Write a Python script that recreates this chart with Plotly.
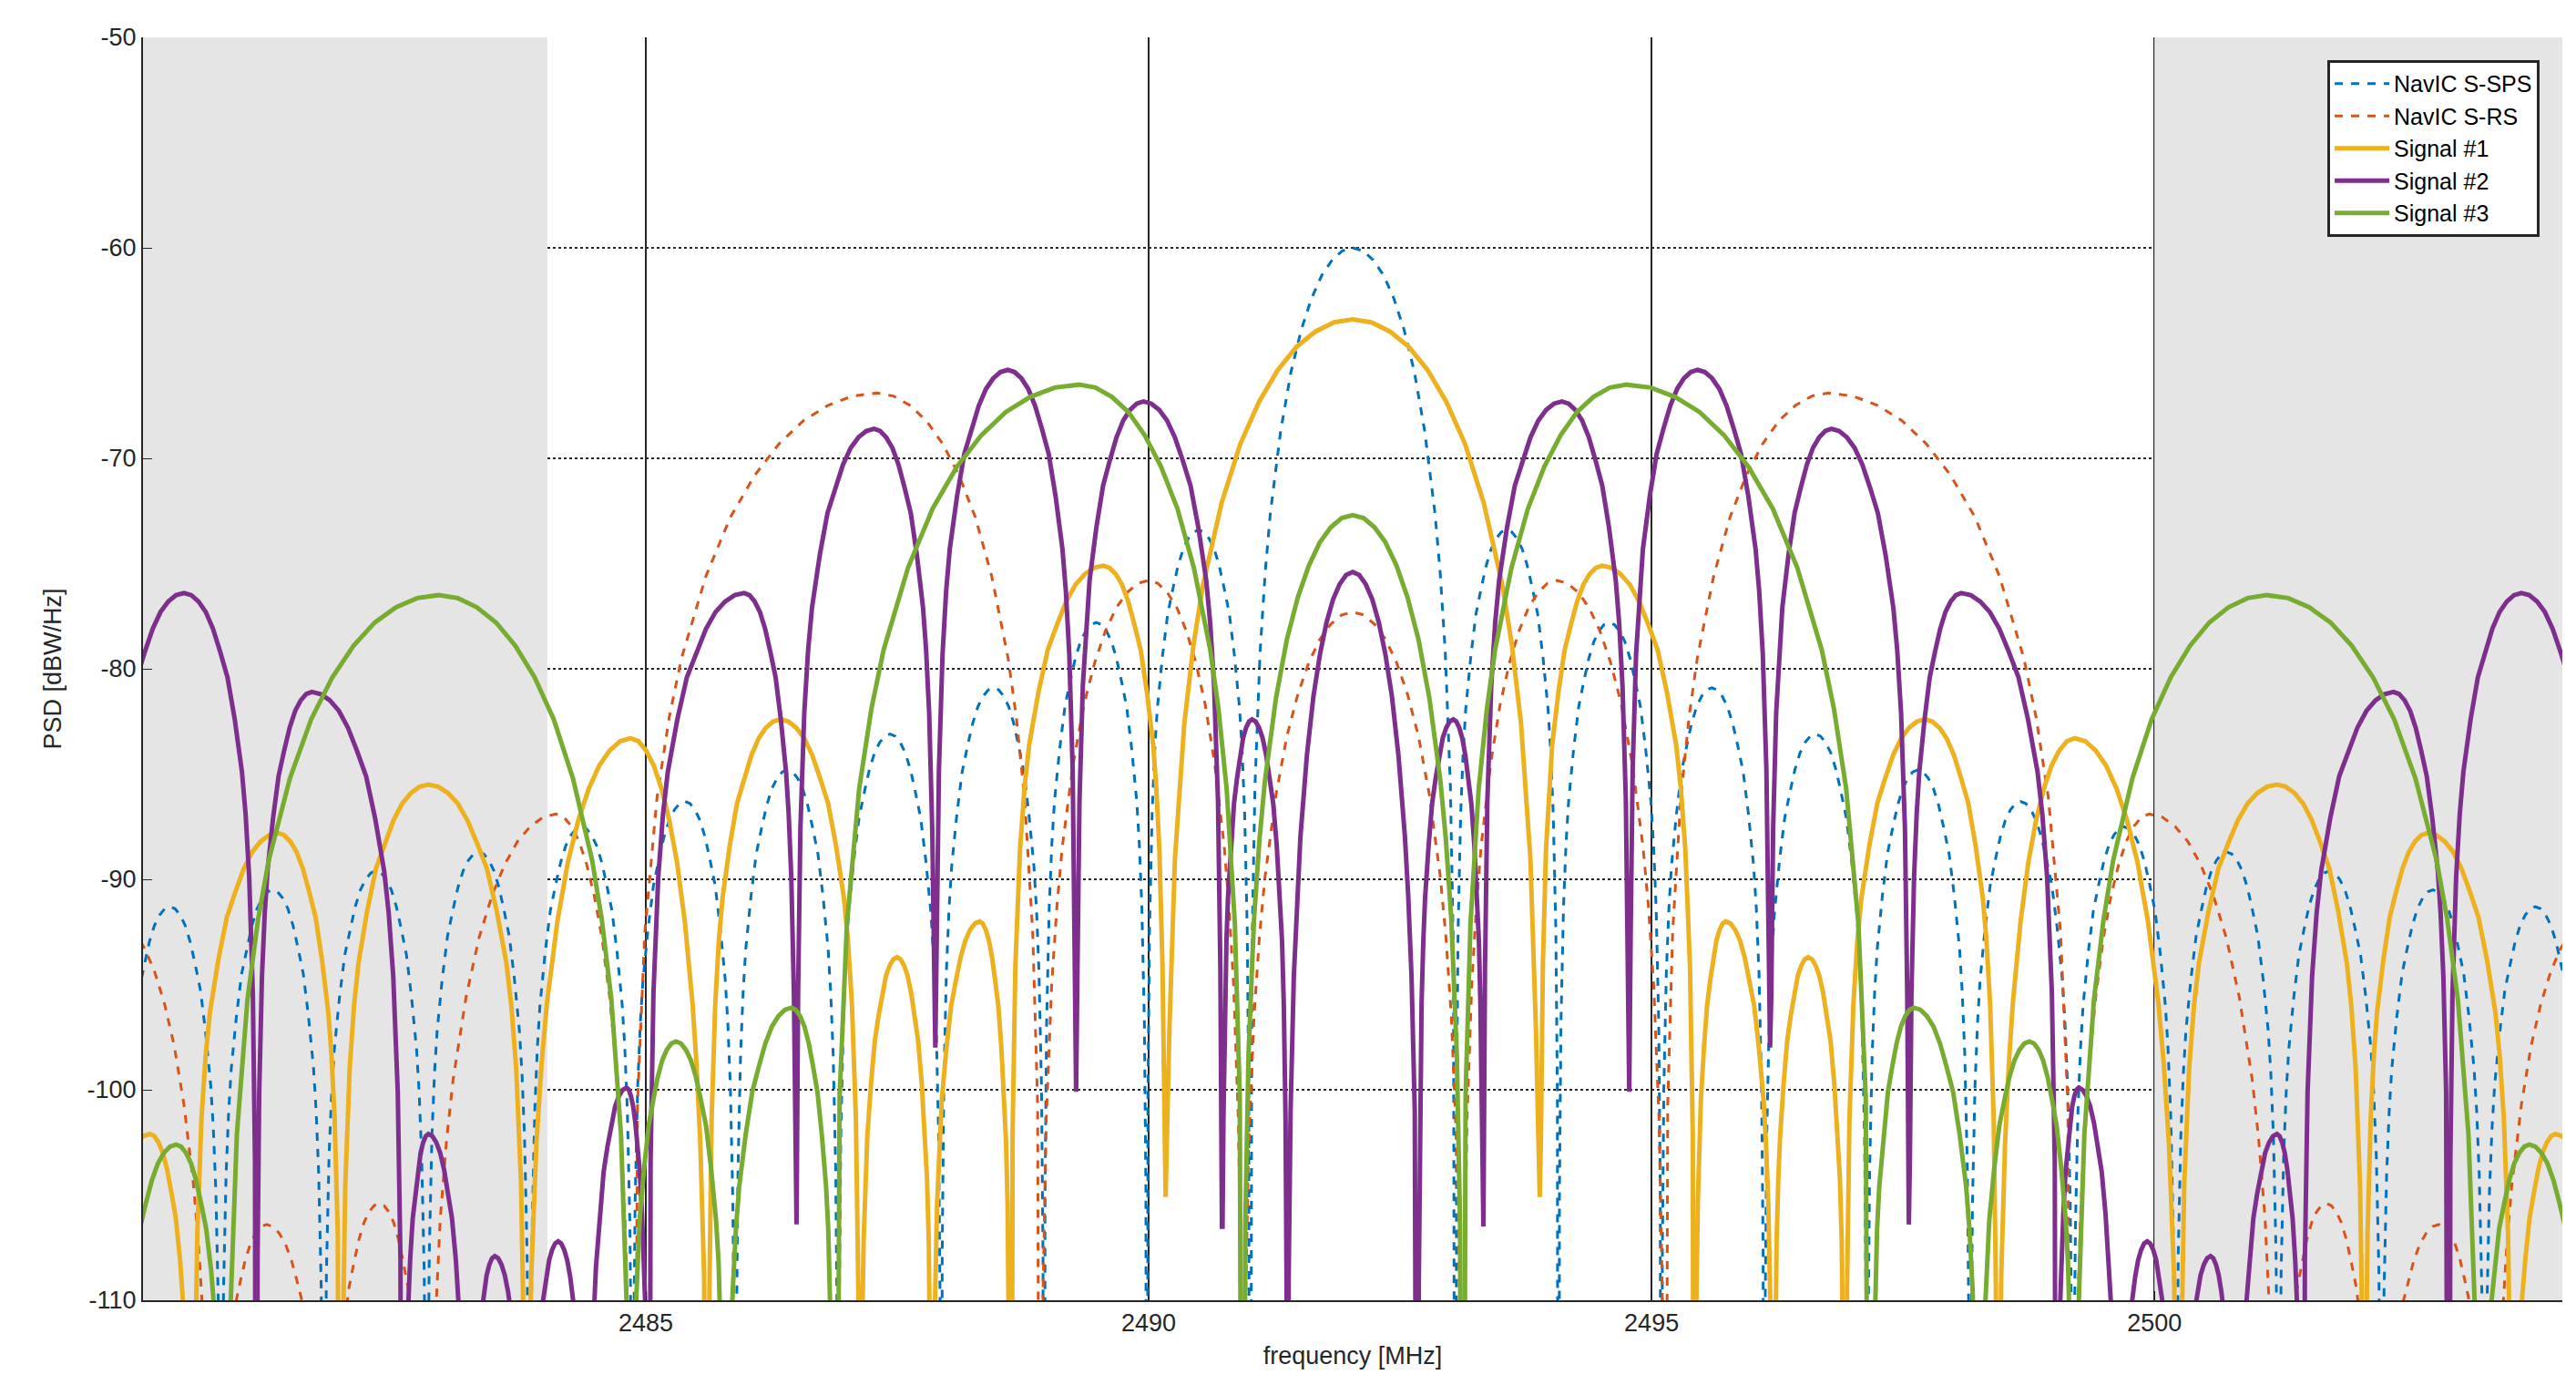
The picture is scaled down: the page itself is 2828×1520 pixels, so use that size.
import plotly.graph_objects as go

CENTER = 2492.028
X_RANGE = [2480.0, 2504.056]
Y_RANGE = [-110, -50]
X_TICKS = [2485, 2490, 2495, 2500]
Y_TICKS = [-110, -100, -90, -80, -70, -60, -50]
SHADE_LEFT = [2480.0, 2484.02]
SHADE_RIGHT = [2500.0, 2504.056]

# Per series (symmetric about CENTER): null offsets [MHz], null depths [dB],
# lobe peak offsets and lobe peak levels (lobe i lies between null i-1 and null i).
DEEP = -150
sps_nulls = [1.023, 2.046, 3.069, 4.092, 5.115, 6.138, 7.161, 8.184, 9.207, 10.23, 11.253, 12.276, 13.3]
sps_depth = [DEEP] * 13
sps_peak_off = [0, 1.53, 2.55, 3.57, 4.6, 5.62, 6.64, 7.67, 8.69, 9.71, 10.74, 11.76, 12.79]
sps_peak_lvl = [-60.0, -73.4, -77.8, -80.9, -83.1, -84.8, -86.3, -87.5, -88.7, -89.6, -90.5, -91.3, -92.0]

rs_nulls = [1.09, 3.1, 7.16, 9.2, 10.18, 11.33, 13.4]
rs_depth = [DEEP] * 7
rs_peak_off = [0, 2.03, 4.73, 7.92, 9.68, 10.8, 12.3]
rs_peak_lvl = [-77.3, -75.8, -66.9, -86.9, -105.4, -106.4, -92.0]

s1_nulls = [1.86, 3.40, 4.18, 4.90, 6.41, 8.22, 10.06, 11.53, 12.6]
s1_depth = [-105.1, DEEP, DEEP, DEEP, DEEP, DEEP, DEEP, DEEP, DEEP]
s1_peak_off = [0, 2.48, 3.71, 4.53, 5.69, 7.18, 9.19, 10.69, 11.96]
s1_peak_lvl = [-63.4, -75.1, -92.0, -93.7, -82.4, -83.3, -85.5, -87.8, -102.1]

s2_nulls = [0.65, 1.30, 2.75, 4.15, 5.53, 7.0, 7.6, 8.2, 8.8, 9.45, 10.9, 12.4]
s2_depth = [DEEP, -106.5, -100.1, -98.0, -106.4, DEEP, DEEP, DEEP, DEEP, DEEP, DEEP, DEEP]
s2_peak_off = [0, 1.0, 2.08, 3.43, 4.76, 6.05, 7.22, 7.9, 8.53, 9.19, 10.35, 11.62]
s2_peak_lvl = [-75.4, -82.4, -67.3, -65.8, -68.6, -76.4, -99.9, -107.2, -107.9, -102.1, -81.1, -76.4]

s3_nulls = [1.09, 5.15, 6.23, 7.18, 11.2, 12.3]
s3_depth = [DEEP] * 6
s3_peak_off = [0, 2.72, 5.58, 6.73, 9.09, 11.7]
s3_peak_lvl = [-72.7, -66.5, -96.1, -97.7, -76.5, -102.6]

# lobe shape template: fraction of distance from null -> dB below lobe peak
T_FRAC = [0.0, 0.02, 0.05, 0.1, 0.15, 0.2, 0.3, 0.4, 0.5, 0.6, 0.7, 0.8, 0.9, 1.0]
MAIN_DROP = [None, -33.8, -25.6, -19.2, -15.4, -12.6, -8.7, -5.9, -3.9, -2.4, -1.3, -0.58, -0.14, 0.0]
SIDE_DROP = [None, -27.0, -19.0, -13.5, -10.5, -8.5, -6.0, -4.0, -2.8, -1.7, -0.9, -0.4, -0.1, 0.0]


def half(p, P, n, D, main, towards_null):
    drops = MAIN_DROP if main else SIDE_DROP
    pts = []
    for t, d in zip(T_FRAC, drops):
        x = n + (p - n) * t
        y = D if d is None else max(P + d, D)
        pts.append((x, y))
    return pts if towards_null is False else pts[::-1]


def build(nulls, depth, poff, plvl):
    pts = []
    for i in range(len(nulls)):
        left = 0.0 if i == 0 else nulls[i - 1]
        right = nulls[i]
        p, P = poff[i], plvl[i]
        main = (right - p) > 1.0 or i == 0
        if i > 0:
            pts += half(p, P, left, depth[i - 1], main, False)
        pts += half(p, P, right, depth[i], main, True)[1:] if i > 0 else half(p, P, right, depth[i], main, True)
    pts.sort()
    xs_r = [CENTER + x for x, _ in pts]
    ys_r = [y for _, y in pts]
    xs_l = [CENTER - x for x, _ in pts][::-1]
    ys_l = ys_r[::-1]
    return xs_l + xs_r[1:], ys_l + ys_r[1:]


series = [
    ("NavIC S-SPS", "#0072BD", "dash", 3, sps_nulls, sps_depth, sps_peak_off, sps_peak_lvl),
    ("NavIC S-RS", "#D95319", "dash", 3, rs_nulls, rs_depth, rs_peak_off, rs_peak_lvl),
    ("Signal #1", "#EDB120", "solid", 5, s1_nulls, s1_depth, s1_peak_off, s1_peak_lvl),
    ("Signal #2", "#7E2F8E", "solid", 5, s2_nulls, s2_depth, s2_peak_off, s2_peak_lvl),
    ("Signal #3", "#77AC30", "solid", 5, s3_nulls, s3_depth, s3_peak_off, s3_peak_lvl),
]

fig = go.Figure()
for name, col, dash, w, nl, dp, po, pl in series:
    xs, ys = build(nl, dp, po, pl)
    fig.add_trace(go.Scatter(x=xs, y=ys, mode="lines", name=name,
                             line=dict(color=col, dash=dash, width=w), cliponaxis=True))

for x0, x1 in (SHADE_LEFT, SHADE_RIGHT):
    fig.add_shape(type="rect", xref="x", yref="y", x0=x0, x1=x1, y0=Y_RANGE[0], y1=Y_RANGE[1],
                  fillcolor="#E5E5E5", line=dict(width=0), layer="between")

font = "Liberation Sans, Arial, sans-serif"
fig.update_layout(
    width=2828, height=1520,
    margin=dict(l=149, r=23, t=33, b=101),
    paper_bgcolor="white", plot_bgcolor="white",
    font=dict(family=font, size=27, color="#262626"),
    showlegend=True,
    legend=dict(x=0.9906, y=0.982, xanchor="right", yanchor="top",
                bgcolor="white", bordercolor="#262626", borderwidth=3,
                font=dict(size=25, color="black"), tracegroupgap=0, itemwidth=60),
)
fig.update_xaxes(range=X_RANGE, tickvals=X_TICKS, ticktext=[str(v) for v in X_TICKS],
                 showgrid=True, gridcolor="#262626", gridwidth=1.5,
                 showline=True, linecolor="#262626", linewidth=2, ticks="inside", ticklen=10,
                 tickcolor="#262626", zeroline=False,
                 title=dict(text="frequency [MHz]", font=dict(size=27), standoff=12))
fig.update_yaxes(range=Y_RANGE, tickvals=Y_TICKS, ticktext=[str(v) for v in Y_TICKS],
                 showgrid=True, gridcolor="#262626", gridwidth=1.5, griddash="dot",
                 showline=True, linecolor="#262626", linewidth=2, ticks="inside", ticklen=10,
                 tickcolor="#262626", zeroline=False,
                 title=dict(text="PSD [dBW/Hz]", font=dict(size=27), standoff=20))

fig.write_html("out.html")
